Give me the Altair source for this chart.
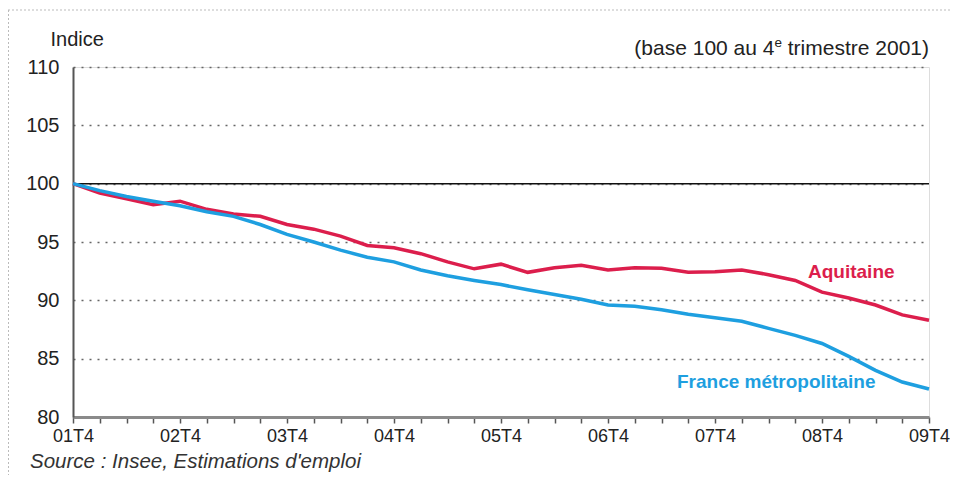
import json
import altair as alt
import pandas as pd

# ---- data ----
quarters = ["01T4", "02T4", "03T4", "04T4", "05T4", "06T4", "07T4", "08T4", "09T4"]
aquitaine = [100, 99.2, 98.7, 98.2, 98.5, 97.8, 97.4, 97.2, 96.5, 96.1, 95.5, 94.7,
             94.5, 94.0, 93.3, 92.7, 93.1, 92.4, 92.8, 93.0, 92.6, 92.8, 92.75, 92.4,
             92.45, 92.6, 92.2, 91.7, 90.7, 90.2, 89.6, 88.75, 88.3]
france = [100, 99.4, 98.9, 98.5, 98.1, 97.6, 97.2, 96.5, 95.65, 95.0, 94.3, 93.7,
          93.3, 92.6, 92.1, 91.7, 91.35, 90.9, 90.5, 90.1, 89.6, 89.5, 89.2, 88.8,
          88.5, 88.2, 87.6, 87.0, 86.3, 85.2, 84.0, 83.0, 82.4]
series_names = ["Aquitaine", "France métropolitaine"]
y_ticks = [80, 85, 90, 95, 100, 105, 110]

RED = "#dc1e4c"
BLUE = "#1e9fe0"
FONT = "Liberation Sans"

rows = []
for i, v in enumerate(aquitaine):
    rows.append({"q": i, "v": v, "s": series_names[0]})
for i, v in enumerate(france):
    rows.append({"q": i, "v": v, "s": series_names[1]})
df = pd.DataFrame(rows)

W, H = 856, 350
PAD = {"left": 65, "top": 59, "right": 21, "bottom": 58}
label_expr = ("datum.value % 4 == 0 ? " + json.dumps(quarters) +
              "[datum.value / 4] : ''")

x_enc = alt.X("q:Q",
              scale=alt.Scale(domain=[0, 32], nice=False, zero=False),
              axis=alt.Axis(values=list(range(33)), labelExpr=label_expr,
                            labelOverlap=False, labelFlush=False, grid=False,
                            title=None, tickSize=6, tickColor="#555", tickWidth=1.5,
                            domainColor="#8a8a8a", domainWidth=3,
                            labelPadding=4, labelFontSize=18, labelFont=FONT,
                            labelColor="#222"))
y_enc = alt.Y("v:Q",
              scale=alt.Scale(domain=[80, 110], nice=False, zero=False),
              axis=alt.Axis(values=y_ticks, grid=True, gridDash=[2, 6],
                            gridColor="#666", gridWidth=1.5,
                            tickSize=0, labelPadding=14, labelFontSize=20,
                            labelFont=FONT, labelColor="#222",
                            domainColor="#555", domainWidth=2,
                            title="Indice", titleAngle=0, titleAlign="left",
                            titleBaseline="alphabetic", titleX=-23, titleY=-22,
                            titleFontWeight="normal", titleFontSize=20,
                            titleFont=FONT, titleColor="#222"))

lines = alt.Chart(df).mark_line(strokeWidth=3.5).encode(
    x=x_enc, y=y_enc,
    color=alt.Color("s:N", scale=alt.Scale(domain=series_names, range=[RED, BLUE]),
                    legend=None),
    order="q:Q",
)

base_rule = alt.Chart(pd.DataFrame({"v": [100]})).mark_rule(
    color="#111", strokeWidth=1.5).encode(y="v:Q")

one = pd.DataFrame({"a": [0]})

def txt(text, x, y, size=20, align="left", weight="normal", color="#222",
        style="normal", baseline="alphabetic"):
    return alt.Chart(one).mark_text(
        text=text, align=align, baseline=baseline, fontSize=size, font=FONT,
        fontWeight=weight, color=color, fontStyle=style
    ).encode(x=alt.value(x), y=alt.value(y))

# "(base 100 au 4e trimestre 2001)" with superscript e
fs = 21
last_w = 7.002 * fs
sup_fs = 13.5
sup_w = 0.556 * sup_fs
t_last = txt(" trimestre 2001)", W, -12, size=fs, align="right")
t_sup = txt("e", W - last_w, -20, size=sup_fs, align="right")
t_first = txt("(base 100 au 4", W - last_w - sup_w, -12, size=fs, align="right")

lab_aq = txt("Aquitaine", 735, 205, size=19, weight="bold", color=RED,
             baseline="middle")
lab_fr = txt("France métropolitaine", 604, 315, size=19, weight="bold", color=BLUE,
             baseline="middle")
source = txt("Source : Insee, Estimations d'emploi", -43, 401, size=20.5,
             style="italic", color="#333")

border_top = alt.Chart(one).mark_rule(color="#bbb", strokeDash=[2, 2], strokeWidth=1).encode(
    x=alt.value(-65), x2=alt.value(W + PAD["right"]), y=alt.value(-57))
border_left = alt.Chart(one).mark_rule(color="#bbb", strokeDash=[2, 2], strokeWidth=1).encode(
    x=alt.value(-64.5), y=alt.value(-57), y2=alt.value(H + PAD["bottom"]))

chart = alt.layer(
    border_top, border_left, base_rule, lines,
    t_first, t_sup, t_last, lab_aq, lab_fr, source
).properties(
    width=W, height=H,
    padding=PAD,
    autosize=alt.AutoSizeParams(type="none"),
).configure_view(stroke=None).configure(background="white")

chart.save("out.html", embed_options={"renderer": "svg", "actions": False})
